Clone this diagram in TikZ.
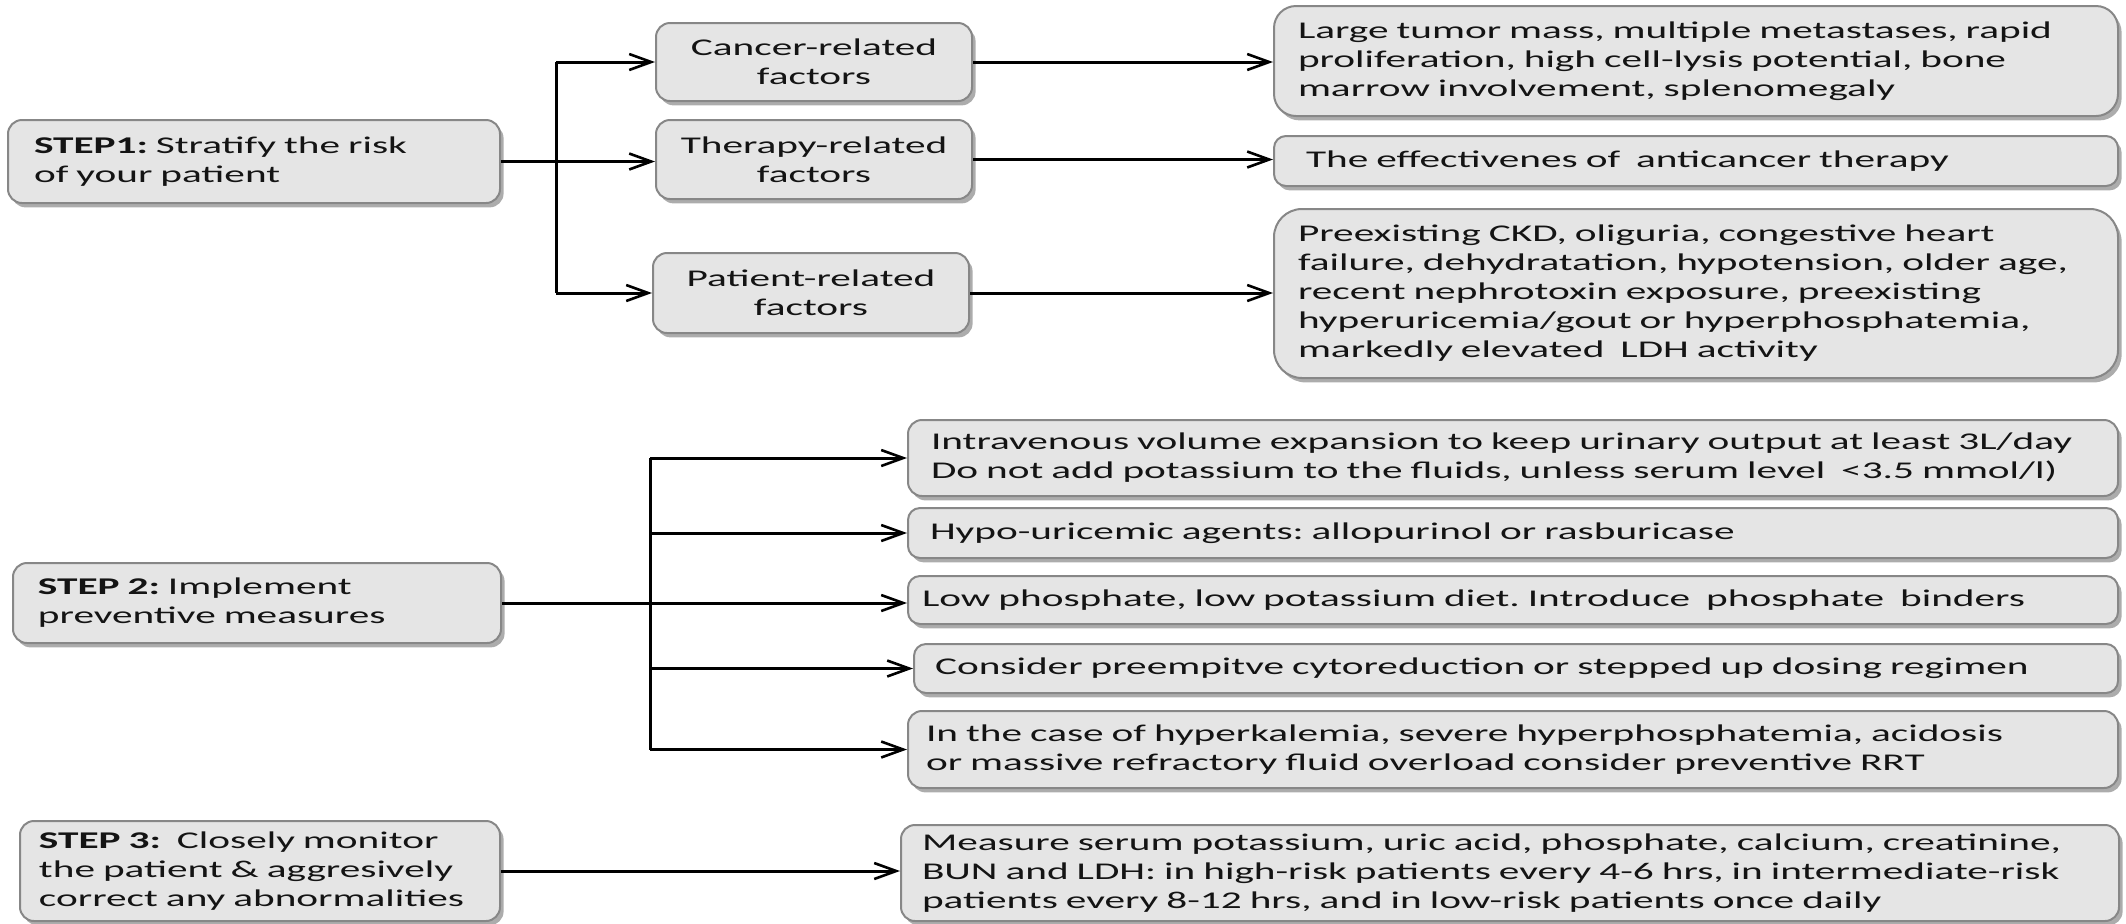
\documentclass[tikz,border=0pt]{standalone}
\usepackage{fontspec}
\setmainfont{Carlito}[FakeStretch=1.72]
\frenchspacing
\usetikzlibrary{arrows.meta,shadows}
\definecolor{boxfill}{RGB}{229,229,229}
\definecolor{boxline}{RGB}{135,135,135}
\definecolor{ink}{RGB}{20,20,20}
\tikzset{
  pbox/.style={draw=boxline, line width=1pt, fill=boxfill, rounded corners=7pt,
    drop shadow={shadow xshift=1.8pt, shadow yshift=-2.2pt, opacity=0.65, fill=gray},
    anchor=north west, align=left, inner ysep=0pt, text=ink,
    font=\fontsize{12pt}{14.5pt}\selectfont},
  cbox/.style={pbox, align=center, inner xsep=4pt, text width=150pt},
  conn/.style={line width=1.5pt, draw=black},
  arr/.style={conn, -{Straight Barb[length=11pt,width=8pt,line width=1.3pt]}}
}
\begin{document}
\begin{tikzpicture}[x=0.5pt,y=-0.5pt]
\useasboundingbox (0,0) rectangle (2126,923);

% Row 1
\node[pbox, inner xsep=13pt, text width=220pt, minimum height=41.5pt] (s1) at (7,119)
  {\textbf{STEP1:} Stratify the risk\\of your patient};
\node[cbox, minimum height=39pt] (c1) at (655,22) {Cancer-related\\factors};
\node[cbox, minimum height=39.5pt] (c2) at (655,119) {Therapy-related\\factors};
\node[cbox, minimum height=40pt] (c3) at (652,252) {Patient-related\\factors};
\node[pbox, inner xsep=12pt, text width=398pt, minimum height=55pt, rounded corners=11pt] (d1) at (1273,5)
  {Large tumor mass, multiple metastases, rapid\\proliferation, high cell-lysis potential, bone\\marrow involvement, splenomegaly};
\node[pbox, inner xsep=12pt, text width=398pt, minimum height=25pt, rounded corners=6pt] (d2) at (1273,135)
  {\ The effectivenes of\ \ anticancer therapy};
\node[pbox, inner xsep=12pt, text width=398pt, minimum height=84.5pt, rounded corners=14pt] (d3) at (1273,208)
  {Preexisting CKD, oliguria, congestive heart\\failure, dehydratation, hypotension, older age,\\recent nephrotoxin exposure, preexisting\\hyperuricemia/gout or hyperphosphatemia,\\markedly elevated\ \ LDH activity};

\coordinate (b1) at (556,0);
\draw[conn] (b1 |- c1.west) -- (b1 |- c3.west);
\draw[arr] (s1.east) -- (c2.west |- s1.east);
\draw[arr] (b1 |- c1.west) -- (c1.west);
\draw[arr] (b1 |- c3.west) -- (c3.west);
\draw[arr] (c1.east) -- (d1.west |- c1.east);
\draw[arr] (c2.east) -- (d2.west |- c2.east);
\draw[arr] (c3.east) -- (d3.west |- c3.east);

% Row 2
\node[pbox, inner xsep=12.5pt, text width=219pt, minimum height=40pt] (s2) at (12,562)
  {\textbf{STEP 2:} Implement\\preventive measures};
\node[pbox, inner xsep=11.5pt, text width=582pt, minimum height=38pt] (e1) at (907,419)
  {Intravenous volume expansion to keep urinary output at least 3L/day\\Do not add potassium to the fluids, unless serum level\ \ {<}3.5 mmol/l)};
\node[pbox, inner xsep=11pt, text width=583pt, minimum height=25pt, rounded corners=6pt] (e2) at (907,507)
  {Hypo-uricemic agents: allopurinol or rasburicase};
\node[pbox, inner xsep=7pt, text width=591pt, minimum height=24pt, rounded corners=6pt] (e3) at (907,575)
  {Low phosphate, low potassium diet. Introduce\ \ phosphate\ \ binders};
\node[pbox, inner xsep=10.5pt, text width=581pt, minimum height=24.5pt, rounded corners=6pt] (e4) at (913,643)
  {Consider preempitve cytoreduction or stepped up dosing regimen};
\node[pbox, inner xsep=9pt, text width=587pt, minimum height=38.5pt] (e5) at (907,710)
  {In the case of hyperkalemia, severe hyperphosphatemia, acidosis\\or massive refractory fluid overload consider preventive RRT};

\coordinate (b2) at (650,0);
\draw[conn] (b2 |- e1.west) -- (b2 |- e5.west);
\draw[arr] (s2.east) -- (e3.west |- s2.east);
\draw[arr] (b2 |- e1.west) -- (e1.west);
\draw[arr] (b2 |- e2.west) -- (e2.west);
\draw[arr] (b2 |- e4.west) -- (e4.west);
\draw[arr] (b2 |- e5.west) -- (e5.west);

% Row 3
\node[pbox, inner xsep=9.5pt, text width=221pt, minimum height=50pt] (s3) at (19,820)
  {\textbf{STEP 3:}\ \ Closely monitor\\the patient \& aggresively\\correct any abnormalities};
\node[pbox, inner xsep=10.5pt, text width=588pt, minimum height=48pt] (f1) at (900,824)
  {Measure serum potassium, uric acid, phosphate, calcium, creatinine,\\BUN and LDH: in high-risk patients every 4-6 hrs, in intermediate-risk\\patients every 8-12 hrs, and in low-risk patients once daily};
\draw[arr] (s3.east) -- (f1.west |- s3.east);
\end{tikzpicture}
\end{document}
